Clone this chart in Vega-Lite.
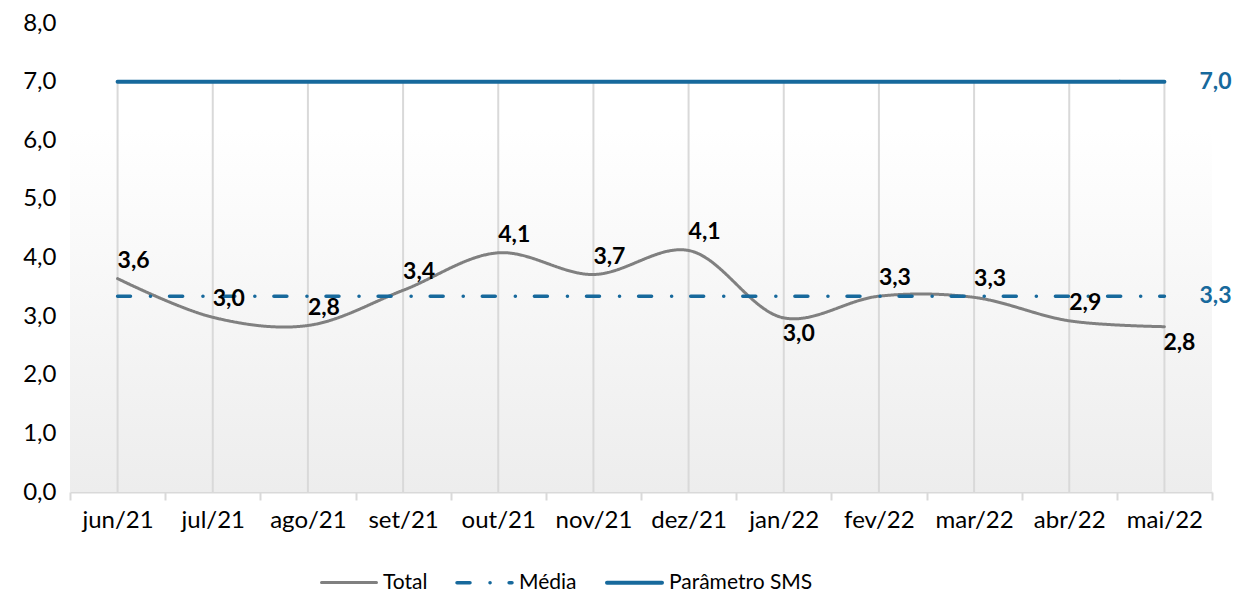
{
  "$schema": "https://vega.github.io/schema/vega-lite/v6.json",
  "width": 1142,
  "height": 469,
  "autosize": {"type": "none"},
  "padding": {"left": 70, "top": 23, "right": 24, "bottom": 99},
  "background": "#ffffff",
  "config": {
    "locale": {"number": {"decimal": ",", "thousands": ".", "grouping": [3], "currency": ["R$", ""]}},
    "view": {"stroke": null},
    "font": "Lato"
  },
  "data": {
    "values": [
      {"month": "jun/21", "series": "Total", "value": 3.64},
      {"month": "jul/21", "series": "Total", "value": 2.98},
      {"month": "ago/21", "series": "Total", "value": 2.84},
      {"month": "set/21", "series": "Total", "value": 3.44},
      {"month": "out/21", "series": "Total", "value": 4.08},
      {"month": "nov/21", "series": "Total", "value": 3.71},
      {"month": "dez/21", "series": "Total", "value": 4.12},
      {"month": "jan/22", "series": "Total", "value": 2.97},
      {"month": "fev/22", "series": "Total", "value": 3.34},
      {"month": "mar/22", "series": "Total", "value": 3.32},
      {"month": "abr/22", "series": "Total", "value": 2.92},
      {"month": "mai/22", "series": "Total", "value": 2.82},
      {"month": "jun/21", "series": "Média", "value": 3.34},
      {"month": "jul/21", "series": "Média", "value": 3.34},
      {"month": "ago/21", "series": "Média", "value": 3.34},
      {"month": "set/21", "series": "Média", "value": 3.34},
      {"month": "out/21", "series": "Média", "value": 3.34},
      {"month": "nov/21", "series": "Média", "value": 3.34},
      {"month": "dez/21", "series": "Média", "value": 3.34},
      {"month": "jan/22", "series": "Média", "value": 3.34},
      {"month": "fev/22", "series": "Média", "value": 3.34},
      {"month": "mar/22", "series": "Média", "value": 3.34},
      {"month": "abr/22", "series": "Média", "value": 3.34},
      {"month": "mai/22", "series": "Média", "value": 3.34},
      {"month": "jun/21", "series": "Parâmetro SMS", "value": 7},
      {"month": "jul/21", "series": "Parâmetro SMS", "value": 7},
      {"month": "ago/21", "series": "Parâmetro SMS", "value": 7},
      {"month": "set/21", "series": "Parâmetro SMS", "value": 7},
      {"month": "out/21", "series": "Parâmetro SMS", "value": 7},
      {"month": "nov/21", "series": "Parâmetro SMS", "value": 7},
      {"month": "dez/21", "series": "Parâmetro SMS", "value": 7},
      {"month": "jan/22", "series": "Parâmetro SMS", "value": 7},
      {"month": "fev/22", "series": "Parâmetro SMS", "value": 7},
      {"month": "mar/22", "series": "Parâmetro SMS", "value": 7},
      {"month": "abr/22", "series": "Parâmetro SMS", "value": 7},
      {"month": "mai/22", "series": "Parâmetro SMS", "value": 7}
    ]
  },
  "encoding": {
    "x": {
      "field": "month",
      "type": "nominal",
      "sort": ["jun/21", "jul/21", "ago/21", "set/21", "out/21", "nov/21", "dez/21", "jan/22", "fev/22", "mar/22", "abr/22", "mai/22"],
      "scale": {"type": "band", "paddingInner": 0, "paddingOuter": 0},
      "axis": {
        "title": null,
        "labelAngle": 0,
        "labelFont": "Lato",
        "labelFontSize": 24,
        "labelColor": "#000000",
        "labelPadding": 8,
        "domainColor": "#d9d9d9",
        "domainWidth": 2,
        "ticks": true,
        "tickBand": "extent",
        "tickColor": "#d9d9d9",
        "tickWidth": 2,
        "tickSize": 8,
        "grid": false
      }
    }
  },
  "layer": [
    {
      "data": {"values": [{}]},
      "mark": {
        "type": "rect",
        "fill": {
          "gradient": "linear",
          "x1": 0, "y1": 0, "x2": 0, "y2": 1,
          "stops": [{"offset": 0, "color": "#ffffff"}, {"offset": 1, "color": "#ededed"}]
        }
      },
      "encoding": {
        "x": {"value": 0},
        "x2": {"value": "width"},
        "y": {"datum": 6.2},
        "y2": {"datum": 0}
      }
    },
    {
      "transform": [{"filter": "datum.series === 'Parâmetro SMS'"}],
      "mark": {"type": "rule", "color": "#d9d9d9", "strokeWidth": 2},
      "encoding": {
        "y": {"field": "value", "type": "quantitative"},
        "y2": {"datum": 0}
      }
    },
    {
      "mark": {"type": "line", "interpolate": "catmull-rom", "strokeCap": "round"},
      "encoding": {
        "y": {
          "field": "value",
          "type": "quantitative",
          "scale": {"domain": [0, 8], "nice": false},
          "axis": {
            "title": null,
            "values": [0, 1, 2, 3, 4, 5, 6, 7, 8],
            "format": ".1f",
            "domain": false,
            "ticks": false,
            "grid": false,
            "labelFont": "Lato",
            "labelFontSize": 24,
            "labelColor": "#000000",
            "labelPadding": 14
          }
        },
        "color": {
          "field": "series",
          "type": "nominal",
          "scale": {"domain": ["Total", "Média", "Parâmetro SMS"], "range": ["#808080", "#17699c", "#17699c"]},
          "legend": {
            "title": null,
            "orient": "none",
            "legendX": 250,
            "legendY": 530,
            "direction": "horizontal",
            "symbolType": "stroke",
            "symbolSize": 3025,
            "symbolStrokeWidth": 4,
            "labelFont": "Lato",
            "labelFontSize": 21,
            "labelColor": "#000000",
            "labelOffset": 5,
            "columnPadding": 22,
            "encode": {
              "symbols": {
                "update": {
                  "strokeDash": {"signal": "datum.value === 'Média' ? [12, 14, 0.1, 14] : [1, 0]"},
                  "strokeCap": {"value": "round"}
                }
              }
            }
          }
        },
        "strokeDash": {
          "field": "series",
          "type": "nominal",
          "scale": {"domain": ["Total", "Média", "Parâmetro SMS"], "range": [[1, 0], [13, 20, 0.1, 19], [1, 0]]}
        },
        "strokeWidth": {
          "field": "series",
          "type": "nominal",
          "scale": {"domain": ["Total", "Média", "Parâmetro SMS"], "range": [3, 4, 4]},
          "legend": null
        }
      }
    },
    {
      "transform": [
        {"filter": "datum.series === 'Total'"},
        {"filter": {"not": {"field": "month", "oneOf": ["jan/22", "mai/22"]}}}
      ],
      "mark": {"type": "text", "fontWeight": "bold", "fontSize": 23, "font": "Lato", "color": "#000000", "dx": 16, "dy": -18},
      "encoding": {
        "y": {"field": "value", "type": "quantitative"},
        "text": {"field": "value", "type": "quantitative", "format": ".1f"}
      }
    },
    {
      "transform": [
        {"filter": "datum.series === 'Total'"},
        {"filter": {"field": "month", "oneOf": ["jan/22", "mai/22"]}}
      ],
      "mark": {"type": "text", "fontWeight": "bold", "fontSize": 23, "font": "Lato", "color": "#000000", "dx": 15, "dy": 16},
      "encoding": {
        "y": {"field": "value", "type": "quantitative"},
        "text": {"field": "value", "type": "quantitative", "format": ".1f"}
      }
    },
    {
      "transform": [
        {"filter": "datum.series !== 'Total'"},
        {"filter": "datum.month === 'mai/22'"}
      ],
      "mark": {"type": "text", "fontWeight": "bold", "fontSize": 23, "font": "Lato", "color": "#17699c", "align": "left", "dx": 35},
      "encoding": {
        "y": {"field": "value", "type": "quantitative"},
        "text": {"field": "value", "type": "quantitative", "format": ".1f"}
      }
    }
  ]
}
